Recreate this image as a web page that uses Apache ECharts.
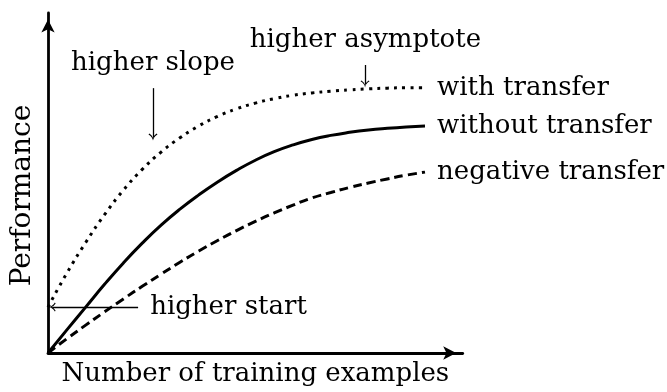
<!DOCTYPE html>
<html>
<head>
<meta charset="utf-8">
<script src="https://cdn.jsdelivr.net/npm/echarts@6/dist/echarts.min.js"></script>
<style>
  html, body { margin: 0; padding: 0; background: #fff; }
  #chart { width: 667px; height: 392px; }
</style>
</head>
<body>
<div id="chart"></div>
<script>
// Learning curves: performance vs. number of training examples
const xs = [0, 0.5, 1, 1.5, 2, 2.5, 3, 3.5, 4, 4.5, 5, 5.5, 6, 6.5, 7, 7.5, 8, 8.5, 9, 9.5, 10];
const withTransfer     = [13.5, 23.5, 32.5, 40.7, 47.9, 54.0, 59.1, 63.3, 66.8, 69.6, 71.8, 73.5, 74.8, 75.8, 76.5, 77.0, 77.4, 77.7, 77.9, 78.0, 78.0];
const withoutTransfer  = [0, 6.8, 13.5, 20.2, 26.5, 32.3, 37.6, 42.3, 46.5, 50.3, 53.7, 56.7, 59.2, 61.2, 62.8, 64.0, 64.9, 65.6, 66.1, 66.5, 66.8];
const negativeTransfer = [0, 4.2, 8.2, 12.1, 15.9, 19.6, 23.2, 26.7, 30.0, 33.1, 36.0, 38.7, 41.2, 43.5, 45.6, 47.2, 48.7, 50.0, 51.2, 52.3, 53.2];
const seriesNames = ['with transfer', 'without transfer', 'negative transfer'];

// annotation anchors, in data units
const slopeArrow = [[2.785, 77.9], [2.785, 63.5]];
const asymptoteArrow = [[8.41, 84.7], [8.41, 79.1]];
const startArrow = [[2.39, 13.5], [0.11, 13.5]];
const slopeText = [2.785, 85.1];
const asymptoteText = [8.42, 92.0];
const startText = [2.71, 13.5];

const FONT = 'DejaVu Serif';
const FS = 26;

// thin curved arrow tip, pointing up before rotation
const tipPath = 'path://M5,0 Q5.6,5 10,8 L9,9 Q6,6.8 5,3.6 Q4,6.8 1,9 L0,8 Q4.4,5 5,0 Z';

function pairs(ys) { return xs.map((x, i) => [x, ys[i]]); }

const textStyle = { fontFamily: FONT, fontSize: FS, color: '#000' };

const chart = echarts.init(document.getElementById('chart'), null, { renderer: 'canvas' });

const axisLine = {
  show: true,
  onZero: false,
  symbol: ['none', 'arrow'],
  symbolSize: [10, 13],
  symbolOffset: [0, -6.5],
  lineStyle: { color: '#000', width: 2.8 }
};

chart.setOption({
  animation: false,
  backgroundColor: '#fff',
  grid: { left: 48, top: 13, width: 414.7, bottom: 39, containLabel: false },
  xAxis: {
    type: 'value', min: 0, max: 11,
    name: 'Number of training examples',
    nameLocation: 'middle', nameGap: 8,
    nameTextStyle: Object.assign({ verticalAlign: 'top' }, textStyle),
    axisLine: axisLine,
    axisTick: { show: false }, axisLabel: { show: false }, splitLine: { show: false }
  },
  yAxis: {
    type: 'value', min: 0, max: 100,
    name: 'Performance',
    nameLocation: 'middle', nameGap: 11, nameRotate: 90,
    nameTextStyle: Object.assign({}, textStyle, { fontSize: 28, padding: [0, 25, 0, 0] }),
    axisLine: axisLine,
    axisTick: { show: false }, axisLabel: { show: false }, splitLine: { show: false }
  },
  series: [
    {
      name: seriesNames[0], type: 'line', data: pairs(withTransfer),
      smooth: true, showSymbol: false, silent: true,
      lineStyle: { color: '#000', width: 3, type: [3, 5.3], cap: 'butt' },
      endLabel: Object.assign({ show: true, formatter: '{a}', distance: 12 }, textStyle)
    },
    {
      name: seriesNames[1], type: 'line', data: pairs(withoutTransfer),
      smooth: true, showSymbol: false, silent: true,
      lineStyle: { color: '#000', width: 3, type: 'solid' },
      endLabel: Object.assign({ show: true, formatter: '{a}', distance: 12 }, textStyle),
      markLine: {
        silent: true, animation: false,
        symbol: ['none', tipPath], symbolSize: [9, 7],
        label: { show: false },
        lineStyle: { color: '#000', width: 1.3, type: 'solid' },
        itemStyle: { color: '#000' },
        emphasis: { disabled: true },
        data: [
          [{ coord: slopeArrow[0] }, { coord: slopeArrow[1] }],
          [{ coord: asymptoteArrow[0] }, { coord: asymptoteArrow[1] }],
          [{ coord: startArrow[0] }, { coord: startArrow[1] }]
        ]
      },
      markPoint: {
        silent: true, animation: false,
        symbol: 'circle', symbolSize: 0,
        itemStyle: { color: 'transparent' },
        data: [
          { coord: slopeText, label: Object.assign({ show: true, position: 'inside', formatter: 'higher slope' }, textStyle) },
          { coord: asymptoteText, label: Object.assign({ show: true, position: 'inside', formatter: 'higher asymptote' }, textStyle) },
          { coord: startText, label: Object.assign({ show: true, position: 'right', distance: 0, formatter: 'higher start' }, textStyle) }
        ]
      }
    },
    {
      name: seriesNames[2], type: 'line', data: pairs(negativeTransfer),
      smooth: true, showSymbol: false, silent: true,
      lineStyle: { color: '#000', width: 3, type: [9, 5], cap: 'butt' },
      endLabel: Object.assign({ show: true, formatter: '{a}', distance: 12 }, textStyle)
    }
  ]
});
</script>
</body>
</html>
